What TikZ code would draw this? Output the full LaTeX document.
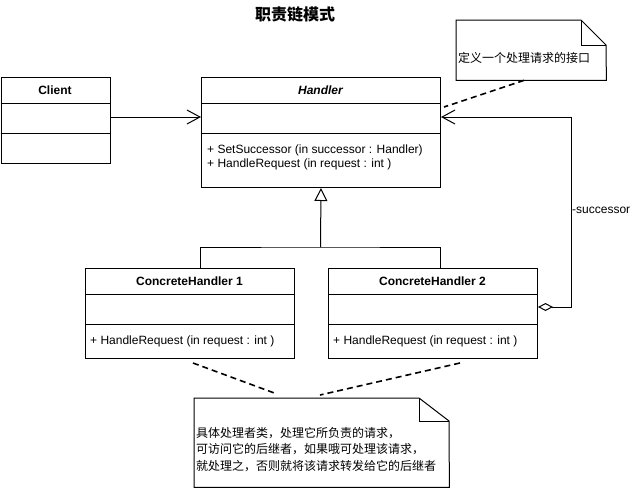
\documentclass[tikz,border=0pt]{standalone}
\usepackage{fontspec}
\setmainfont{Liberation Sans}
\newfontfamily\cjk{Noto Sans CJK SC}
\usetikzlibrary{arrows.meta,calc,positioning}
\tikzset{
	umlbox/.style={draw, line width=1pt, rectangle, inner sep=0pt, anchor=north west},
	notebody/.style={rectangle, inner sep=0pt, anchor=north west},
	lbl/.style={inner sep=0pt, font=\fontsize{12}{14}\selectfont},
	cjklbl/.style={inner sep=0pt, align=left, font=\fontsize{12}{16.5}\selectfont\cjk},
	thinline/.style={line width=1pt},
	assoc/.style={line width=1pt, -{Straight Barb[length=13pt,width=14pt,line width=1pt]}},
	inherit/.style={line width=1pt, -{Triangle[open,length=13pt,width=13pt,line width=1pt]}},
	aggr/.style={line width=1pt, {Diamond[open,length=15pt,width=8pt,line width=1pt]}-{Straight Barb[length=13pt,width=14pt,line width=1pt]}},
	notelink/.style={line width=1.6pt, dash pattern=on 6pt off 4pt},
}
\begin{document}
\begin{tikzpicture}[x=1pt,y=-1pt]
	\useasboundingbox (0,0) rectangle (641,488);
	\node[lbl, font=\fontsize{16}{18}\selectfont\cjk\bfseries] (title) at (295,14) {职责链模式};

	\node[umlbox, minimum width=109.5pt, minimum height=86pt] (client) at (0.5,77) {};
	\draw[thinline] (client.north west) ++(0,26) -- ++(109.5,0);
	\draw[thinline] (client.north west) ++(0,56) -- ++(109.5,0);
	\node[lbl, font=\fontsize{12}{14}\selectfont\bfseries] (clientname) at (55,90) {Client};

	\node[umlbox, minimum width=239pt, minimum height=110pt] (handler) at (201,77) {};
	\draw[thinline] (handler.north west) ++(0,26) -- ++(239,0);
	\draw[thinline] (handler.north west) ++(0,56) -- ++(239,0);
	\node[lbl, font=\fontsize{12}{14}\selectfont\bfseries\itshape] (handlername) at (320.5,90) {Handler};
	\node[lbl, anchor=west, align=left] (handlerops) at (207,157) {+ SetSuccessor (in successor : Handler)\\+ HandleRequest (in request : int )};

	\node[umlbox, minimum width=209pt, minimum height=90pt] (ch1) at (85,268) {};
	\draw[thinline] (ch1.north west) ++(0,26) -- ++(209,0);
	\draw[thinline] (ch1.north west) ++(0,56) -- ++(209,0);
	\node[lbl, font=\fontsize{12}{14}\selectfont\bfseries] (ch1name) at (189.5,281) {ConcreteHandler 1};
	\node[lbl, anchor=west] (ch1ops) at (90,341) {+ HandleRequest (in request : int )};

	\node[umlbox, minimum width=209pt, minimum height=90pt] (ch2) at (328,268) {};
	\draw[thinline] (ch2.north west) ++(0,26) -- ++(209,0);
	\draw[thinline] (ch2.north west) ++(0,56) -- ++(209,0);
	\node[lbl, font=\fontsize{12}{14}\selectfont\bfseries] (ch2name) at (432.5,281) {ConcreteHandler 2};
	\node[lbl, anchor=west] (ch2ops) at (333,341) {+ HandleRequest (in request : int )};

	\draw[assoc] ($(client.north east)+(0,40)$) -- ($(handler.north west)+(0,40)$);

	\coordinate (fork) at (320.5,247);
	\draw[thinline] ($(ch1.north west)+(115,0)$) |- (fork) -| ($(ch2.north west)+(112,0)$);
	\draw[inherit] (fork) -- (handler.south);

	\draw[aggr] ($(ch2.north east)+(0,39)$) -- ++(33,0) |- ($(handler.north east)+(0,40)$);
	\node[lbl, anchor=west] (succ) at (572,210) {-successor};

	\node[notebody, minimum width=150pt, minimum height=60pt] (ifnote) at (456,20) {};
	\draw[thinline] (ifnote.north west) -- ++(125,0) -- ++(25,25) -- (ifnote.south east) -- (ifnote.south west) -- cycle;
	\draw[thinline] (ifnote.north east) ++(-25,0) -- ++(0,25) -- ++(25,0);
	\node[cjklbl, anchor=west] (iftext) at ($(ifnote.west)+(2,8)$) {定义一个处理请求的接口};
	\draw[notelink] ($(ifnote.south west)+(68,0)$) -- ($(handler.north east)+(3,30)$);

	\node[notebody, minimum width=255pt, minimum height=89pt] (reqnote) at (194,398) {};
	\draw[thinline] (reqnote.north west) -- ++(225,0) -- ++(30,23) -- (reqnote.south east) -- (reqnote.south west) -- cycle;
	\draw[thinline] (reqnote.north east) ++(-30,0) -- ++(0,23) -- ++(30,0);
	\node[cjklbl, anchor=west] (reqtext) at ($(reqnote.west)+(2,6.5)$) {具体处理者类，处理它所负责的请求，\\可访问它的后继者，如果哦可处理该请求，\\就处理之，否则就将该请求转发给它的后继者};
	\draw[notelink] ($(ch1.south west)+(108,4)$) -- ($(reqnote.north west)+(83,-4)$);
	\draw[notelink] ($(ch2.south west)+(132,4)$) -- ($(reqnote.north west)+(126,-3)$);
\end{tikzpicture}
\end{document}
